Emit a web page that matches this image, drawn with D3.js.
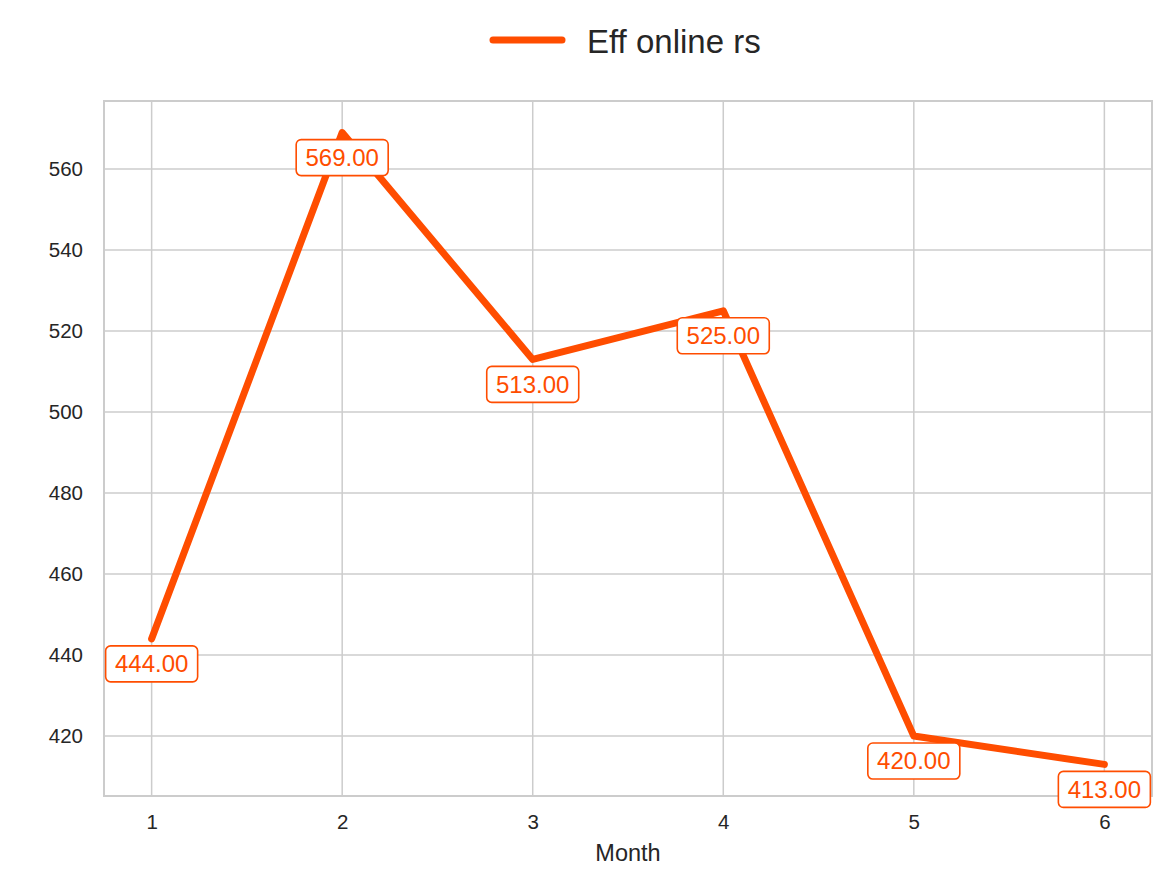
<!DOCTYPE html>
<html>
<head>
<meta charset="utf-8">
<script src="https://cdn.jsdelivr.net/npm/d3@7"></script>
<style>
  body { margin: 0; background: #fff; }
  text { font-family: "Liberation Sans", Arial, sans-serif; }
</style>
</head>
<body>
<script>
// data
var months = [1, 2, 3, 4, 5, 6];
var effOnline = [444, 569, 513, 525, 420, 413];
var yTicks = [420, 440, 460, 480, 500, 520, 540, 560];
var seriesName = "Eff online rs";
var color = "#ff4d00";

var W = 1165, H = 881;
var margin = {top: 101, right: 13, bottom: 85, left: 104};
var width = W - margin.left - margin.right;
var height = H - margin.top - margin.bottom;

var svg = d3.select("body").append("svg")
    .attr("width", W)
    .attr("height", H);

var g = svg.append("g")
    .attr("transform", "translate(" + margin.left + "," + margin.top + ")");

// matplotlib style 5% margins
var xr = d3.extent(months), yr = d3.extent(effOnline);
var xpad = (xr[1] - xr[0]) * 0.05, ypad = (yr[1] - yr[0]) * 0.05;

var x = d3.scaleLinear().domain([xr[0] - xpad, xr[1] + xpad]).range([0, width]);
var y = d3.scaleLinear().domain([yr[0] - ypad, yr[1] + ypad]).range([height, 0]);

//grid
g.selectAll(".vgrid").data(months).enter().append("line")
    .attr("x1", d => x(d)).attr("x2", d => x(d))
    .attr("y1", 0).attr("y2", height)
    .attr("stroke", "#cccccc").attr("stroke-width", 1.5);
g.selectAll(".hgrid").data(yTicks).enter().append("line")
    .attr("y1", d => y(d)).attr("y2", d => y(d))
    .attr("x1", 0).attr("x2", width)
    .attr("stroke", "#cccccc").attr("stroke-width", 1.5);

//spines
g.append("rect")
    .attr("width", width).attr("height", height)
    .attr("fill", "none").attr("stroke", "#cccccc").attr("stroke-width", 2);

//axes
var xAxis = g.append("g")
    .attr("transform", "translate(0," + height + ")")
    .call(d3.axisBottom(x).tickValues(months).tickSize(0).tickPadding(18).tickFormat(d3.format("d")));
var yAxis = g.append("g")
    .call(d3.axisLeft(y).tickValues(yTicks).tickSize(0).tickPadding(21));
[xAxis, yAxis].forEach(function (a) {
    a.select(".domain").remove();
    a.selectAll("text")
        .attr("fill", "#262626")
        .style("font-size", "20.5px")
        .style("font-family", "'Liberation Sans', Arial, sans-serif");
});

g.append("text")
    .attr("x", width / 2).attr("y", height + 65)
    .attr("text-anchor", "middle")
    .attr("fill", "#262626")
    .style("font-size", "23.5px")
    .text("Month");

//line
var data = months.map((m, i) => ({m: m, v: effOnline[i]}));
g.append("path")
    .datum(data)
    .attr("fill", "none")
    .attr("stroke", color)
    .attr("stroke-width", 7)
    .attr("stroke-linecap", "round")
    .attr("stroke-linejoin", "round")
    .attr("d", d3.line().x(d => x(d.m)).y(d => y(d.v)));

//value labels
var lab = g.selectAll(".lab").data(data).enter().append("g")
    .attr("transform", d => "translate(" + x(d.m) + "," + (y(d.v) + 25) + ")");
lab.append("rect")
    .attr("x", -46).attr("y", -18)
    .attr("width", 92).attr("height", 36)
    .attr("rx", 5)
    .attr("fill", "#fff")
    .attr("stroke", color).attr("stroke-width", 1.6);
lab.append("text")
    .attr("text-anchor", "middle")
    .attr("dy", "0.35em")
    .attr("fill", color)
    .style("font-size", "24px")
    .text(d => d3.format(".2f")(d.v));

//legend
var leg = svg.append("g");
leg.append("line")
    .attr("x1", 493).attr("x2", 562)
    .attr("y1", 40).attr("y2", 40)
    .attr("stroke", color).attr("stroke-width", 7)
    .attr("stroke-linecap", "round");
leg.append("text")
    .attr("x", 587).attr("y", 41)
    .attr("dy", "0.35em")
    .attr("fill", "#262626")
    .style("font-size", "33px")
    .text(seriesName);
</script>
</body>
</html>
